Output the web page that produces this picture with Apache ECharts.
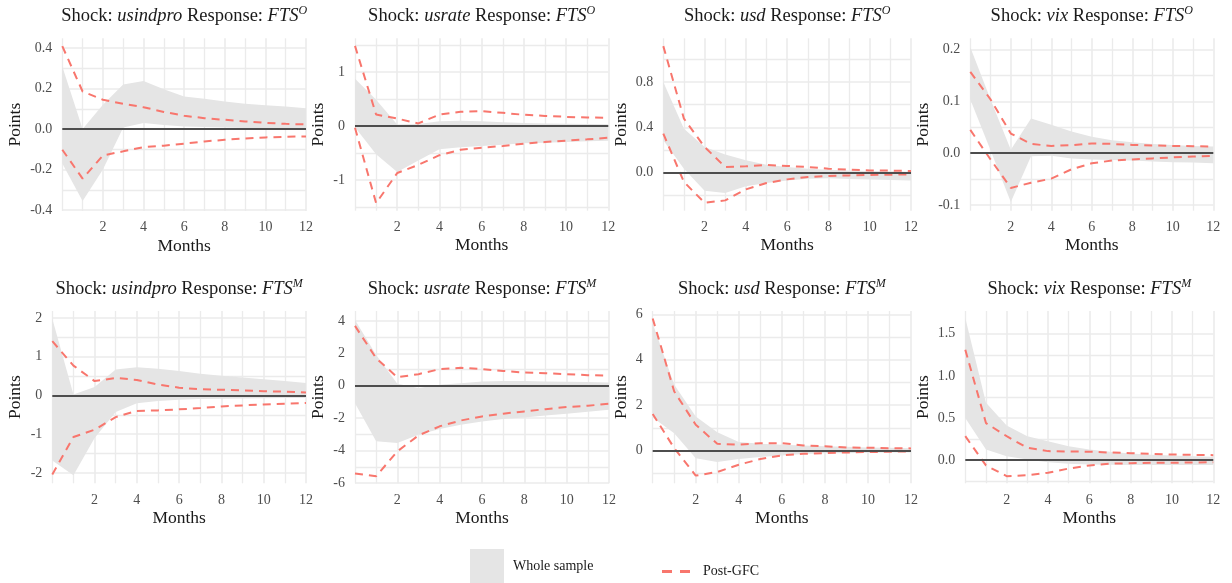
<!DOCTYPE html>
<html><head><meta charset="utf-8">
<script src="https://cdn.jsdelivr.net/npm/echarts@6/dist/echarts.min.js"></script>
<style>html,body{margin:0;padding:0;background:#fff}#c{width:1232px;height:583px}</style>
</head><body><div id="c"></div>
<script>
// ---------------- data ----------------
const months = [0,1,2,3,4,5,6,7,8,9,10,11,12];
const xTicks = [2,4,6,8,10,12];
const xMinorTicks = [0,1,3,5,7,9,11];
const shocks = ['usindpro','usrate','usd','vix'];
const responseSup = ['O','M'];

// Row 1: response FTS^O
const wsLo1 = [-0.17,-0.356,-0.2,0.008,0.03,0.02,0.013,0.01,0.008,0.006,0.005,0.004,0.003];
const wsHi1 = [0.31,0.0,0.12,0.22,0.238,0.197,0.161,0.15,0.136,0.125,0.118,0.112,0.103];
const gfcLo1 = [-0.102,-0.245,-0.13,-0.11,-0.089,-0.082,-0.072,-0.061,-0.053,-0.046,-0.041,-0.038,-0.036];
const gfcHi1 = [0.41,0.186,0.145,0.125,0.108,0.085,0.066,0.054,0.046,0.038,0.031,0.026,0.023];

const wsLo2 = [-0.02,-0.52,-0.85,-0.64,-0.43,-0.39,-0.37,-0.345,-0.32,-0.31,-0.295,-0.283,-0.27];
const wsHi2 = [0.88,0.49,0.03,0.04,0.09,0.10,0.09,0.07,0.06,0.05,0.045,0.04,0.035];
const gfcLo2 = [-0.03,-1.43,-0.87,-0.72,-0.54,-0.44,-0.40,-0.37,-0.326,-0.295,-0.27,-0.246,-0.215];
const gfcHi2 = [1.49,0.215,0.14,0.05,0.215,0.265,0.277,0.246,0.21,0.19,0.172,0.16,0.154];

const wsLo3 = [0.285,0.035,-0.16,-0.18,-0.12,-0.09,-0.068,-0.053,-0.05,-0.055,-0.06,-0.065,-0.068];
const wsHi3 = [0.8,0.388,0.226,0.16,0.109,0.07,0.05,0.035,0.026,0.02,0.015,0.012,0.009];
const gfcLo3 = [0.344,-0.082,-0.265,-0.244,-0.147,-0.091,-0.059,-0.038,-0.029,-0.024,-0.02,-0.018,-0.015];
const gfcHi3 = [1.115,0.476,0.226,0.05,0.056,0.068,0.059,0.05,0.035,0.026,0.02,0.018,0.015];

const wsLo4 = [0.104,0.006,-0.094,-0.006,-0.005,-0.01,-0.012,-0.013,-0.014,-0.016,-0.0175,-0.018,-0.0195];
const wsHi4 = [0.2045,0.104,0.0065,0.067,0.055,0.042,0.032,0.025,0.021,0.018,0.016,0.014,0.013];
const gfcLo4 = [0.045,-0.012,-0.067,-0.057,-0.049,-0.031,-0.0195,-0.014,-0.012,-0.01,-0.008,-0.0065,-0.005];
const gfcHi4 = [0.157,0.104,0.038,0.018,0.014,0.0156,0.019,0.018,0.016,0.015,0.014,0.0136,0.013];

// Row 2: response FTS^M
const wsLo5 = [-1.68,-2.065,-1.1,-0.43,-0.2,-0.146,-0.11,-0.095,-0.086,-0.08,-0.075,-0.07,-0.065];
const wsHi5 = [1.98,0.026,0.215,0.67,0.73,0.69,0.63,0.56,0.51,0.46,0.42,0.37,0.32];
const gfcLo5 = [-2.04,-1.075,-0.886,-0.56,-0.40,-0.387,-0.36,-0.327,-0.284,-0.258,-0.232,-0.215,-0.198];
const gfcHi5 = [1.40,0.77,0.37,0.45,0.40,0.28,0.20,0.16,0.146,0.13,0.11,0.095,0.077];

const wsLo6 = [-1.07,-3.43,-3.53,-3.02,-2.67,-2.4,-2.2,-2.05,-1.95,-1.83,-1.72,-1.6,-1.48];
const wsHi6 = [4.07,1.9,0.12,-0.14,0.06,0.16,0.27,0.29,0.29,0.27,0.25,0.23,0.2];
const gfcLo6 = [-5.42,-5.58,-4.05,-3.06,-2.5,-2.14,-1.89,-1.72,-1.58,-1.44,-1.31,-1.23,-1.11];
const gfcHi6 = [3.7,1.7,0.53,0.72,1.03,1.11,1.03,0.92,0.82,0.78,0.72,0.66,0.62];

const wsLo7 = [1.45,0.76,-0.34,-0.51,-0.38,-0.29,-0.22,-0.16,-0.13,-0.12,-0.10,-0.09,-0.09];
const wsHi7 = [5.6,2.9,1.5,0.8,0.37,0.29,0.25,0.22,0.18,0.16,0.13,0.12,0.1];
const gfcLo7 = [1.61,0.1,-1.11,-0.95,-0.63,-0.38,-0.22,-0.15,-0.12,-0.09,-0.07,-0.06,-0.04];
const gfcHi7 = [5.82,2.6,1.13,0.29,0.25,0.32,0.32,0.22,0.18,0.13,0.12,0.1,0.09];

const wsLo8 = [0.5,0.126,0.047,0.008,-0.024,-0.043,-0.051,-0.055,-0.059,-0.059,-0.059,-0.059,-0.059];
const wsHi8 = [1.686,0.68,0.41,0.284,0.225,0.166,0.126,0.1,0.079,0.063,0.055,0.047,0.04];
const gfcLo8 = [0.284,-0.063,-0.19,-0.18,-0.15,-0.1,-0.063,-0.043,-0.036,-0.032,-0.032,-0.028,-0.024];
const gfcHi8 = [1.31,0.44,0.284,0.146,0.107,0.103,0.1,0.09,0.083,0.075,0.067,0.063,0.059];

// y tick labels (major) and minor grid values per panel
const yTicks1 = [-0.4,-0.2,0,0.2,0.4];       const yMinor1 = [-0.3,-0.1,0.1,0.3];
const yTicks2 = [-1,0,1];                     const yMinor2 = [-1.5,-0.5,0.5,1.5];
const yTicks3 = [0,0.4,0.8];                  const yMinor3 = [-0.2,0.2,0.6,1.0];
const yTicks4 = [-0.1,0,0.1,0.2];             const yMinor4 = [-0.05,0.05,0.15];
const yTicks5 = [-2,-1,0,1,2];                const yMinor5 = [-1.5,-0.5,0.5,1.5];
const yTicks6 = [-6,-4,-2,0,2,4];             const yMinor6 = [-5,-3,-1,1,3];
const yTicks7 = [0,2,4,6];                    const yMinor7 = [-1,1,3,5];
const yTicks8 = [0,0.5,1,1.5];                const yMinor8 = [-0.25,0.25,0.75,1.25];
const yDecimals = [1,0,1,1,0,0,0,1];
const yRange = [[-0.405,0.449],[-1.57,1.63],[-0.335,1.184],[-0.111,0.222],
                [-2.27,2.18],[-6.02,4.62],[-1.45,6.15],[-0.275,1.77]];

// ---------------- chart ----------------
const panels = [
  [wsLo1,wsHi1,gfcLo1,gfcHi1,yTicks1,yMinor1],
  [wsLo2,wsHi2,gfcLo2,gfcHi2,yTicks2,yMinor2],
  [wsLo3,wsHi3,gfcLo3,gfcHi3,yTicks3,yMinor3],
  [wsLo4,wsHi4,gfcLo4,gfcHi4,yTicks4,yMinor4],
  [wsLo5,wsHi5,gfcLo5,gfcHi5,yTicks5,yMinor5],
  [wsLo6,wsHi6,gfcLo6,gfcHi6,yTicks6,yMinor6],
  [wsLo7,wsHi7,gfcLo7,gfcHi7,yTicks7,yMinor7],
  [wsLo8,wsHi8,gfcLo8,gfcHi8,yTicks8,yMinor8]
];
// plot-area boxes [left, top, width, height]
const boxes = [
  [62.3,38.3,243.7,172.7],[355,38.3,253.3,172.4],[663.3,38.3,247.7,172.4],[970.3,38.3,243,172.4],
  [52.3,311,253.7,172.3],[355,311,254,172.3],[652.7,311,258.3,172.3],[965.3,311,248,172.3]
];
const yNameX = [15.7,318.3,621.7,923.3,15.7,318.3,621.5,923.3];

const SERIF = "'Liberation Serif','DejaVu Serif',serif";
const GRID_COLOR = '#ebebeb';
const TICK_COLOR = '#4d4d4d';
const RED = '#F8766D';
const GREY = '#e5e5e5';
const TXT = '#1a1a1a';

const option = {
  animation: false,
  backgroundColor: '#ffffff',
  title: [], grid: [], xAxis: [], yAxis: [], series: [],
  legend: [
    { data: ['Whole sample'], left: 470, top: 549, padding: 0, itemWidth: 34, itemHeight: 34, icon: 'rect',
      selectedMode: false,
      textStyle: { fontFamily: SERIF, fontSize: 14, color: TXT, padding: [0,0,0,4] } },
    { data: ['Post-GFC'], left: 662, top: 564.5, padding: 0, itemWidth: 28, itemHeight: 3,
      icon: 'path://M0,0h10v3h-10zM18,0h10v3h-10z',
      selectedMode: false,
      textStyle: { fontFamily: SERIF, fontSize: 14, color: TXT, padding: [0,0,0,8] } }
  ]
};

panels.forEach((p, i) => {
  const [wsLo, wsHi, gfcLo, gfcHi, yT, yM] = p;
  const [L, T, W, H] = boxes[i];
  const row = Math.floor(i / 4), col = i % 4;
  option.grid.push({ left: L, top: T, width: W, height: H, outerBoundsMode: 'none' });
  const base = { fontFamily: SERIF, fontSize: 18.5, fontWeight: 'normal', color: TXT, lineHeight: 22 };
  option.title.push({
    text: `{r|Shock: }{i|${shocks[col]}}{r| Response: }{i|FTS}{s|${responseSup[row]}}`,
    left: L + W / 2, top: row === 0 ? 5 : 278, textAlign: 'center', padding: 0,
    textStyle: Object.assign({}, base, {
      rich: {
        r: Object.assign({}, base),
        i: Object.assign({}, base, { fontStyle: 'italic', letterSpacing: 1 }),
        s: Object.assign({}, base, { fontStyle: 'italic', fontSize: 12, lineHeight: 12, verticalAlign: 'top' })
      }
    })
  });
  const ax = 2 * i;
  // x axes: major (labels) + minor grid
  option.xAxis.push({
    gridIndex: i, type: 'value', min: 0, max: 12, position: 'bottom',
    axisLine: { show: false }, axisTick: { show: false, customValues: xTicks },
    axisLabel: { customValues: xTicks, color: TICK_COLOR, fontFamily: SERIF, fontSize: 14, margin: 16.7, verticalAlign: 'middle' },
    splitLine: { show: true, lineStyle: { color: GRID_COLOR, width: 1.6 } },
    name: 'Months', nameLocation: 'middle', nameGap: 35,
    nameTextStyle: { fontFamily: SERIF, fontSize: 17.5, color: TXT, verticalAlign: 'middle' }
  });
  option.xAxis.push({
    gridIndex: i, type: 'value', min: 0, max: 12, position: 'bottom',
    axisLine: { show: false }, axisTick: { show: false, customValues: xMinorTicks },
    axisLabel: { show: false },
    splitLine: { show: true, lineStyle: { color: GRID_COLOR, width: 1.3 } }
  });
  option.yAxis.push({
    gridIndex: i, type: 'value', min: yRange[i][0], max: yRange[i][1], position: 'left',
    axisLine: { show: false }, axisTick: { show: false, customValues: yT },
    axisLabel: { customValues: yT, color: TICK_COLOR, fontFamily: SERIF, fontSize: 14, margin: 10,
      formatter: v => Number(v).toFixed(yDecimals[i]) },
    splitLine: { show: true, lineStyle: { color: GRID_COLOR, width: 1.6 } },
    name: 'Points', nameLocation: 'middle', nameGap: L - yNameX[i], nameRotate: 90,
    nameTextStyle: { fontFamily: SERIF, fontSize: 17.5, color: TXT, verticalAlign: 'middle' }
  });
  option.yAxis.push({
    gridIndex: i, type: 'value', min: yRange[i][0], max: yRange[i][1], position: 'left',
    axisLine: { show: false }, axisTick: { show: false, customValues: yM },
    axisLabel: { show: false },
    splitLine: { show: true, lineStyle: { color: GRID_COLOR, width: 1.3 } }
  });
  const pair = arr => months.map((m, k) => [m, arr[k]]);
  // Whole-sample band as a polygon through the axes' scales
  option.series.push({
    name: 'Whole sample', type: 'custom', xAxisIndex: ax, yAxisIndex: ax,
    data: months.map((m, k) => [m, wsLo[k], wsHi[k]]),
    encode: { x: 0, y: [1, 2] },
    itemStyle: { color: GREY }, silent: true, z: 1,
    renderItem: (params, api) => {
      if (params.dataIndex !== 0) return null;
      const up = months.map((m, k) => api.coord([m, wsHi[k]]));
      const lo = months.map((m, k) => api.coord([m, wsLo[k]])).reverse();
      return { type: 'polygon', shape: { points: up.concat(lo) }, style: { fill: GREY, stroke: null } };
    },
    markLine: { silent: true, symbol: ['none','none'], label: { show: false }, animation: false,
      lineStyle: { color: '#4d4d4d', width: 2, type: 'solid' }, data: [{ yAxis: 0 }] }
  });
  [gfcHi, gfcLo].forEach(arr => option.series.push({
    name: 'Post-GFC', type: 'line', xAxisIndex: ax, yAxisIndex: ax, data: pair(arr), symbol: 'none',
    itemStyle: { color: RED }, lineStyle: { color: RED, width: 2, type: [8, 6] }, silent: true, z: 3
  }));
});

const chart = echarts.init(document.getElementById('c'), null, { renderer: 'canvas' });
chart.setOption(option);
</script></body></html>
